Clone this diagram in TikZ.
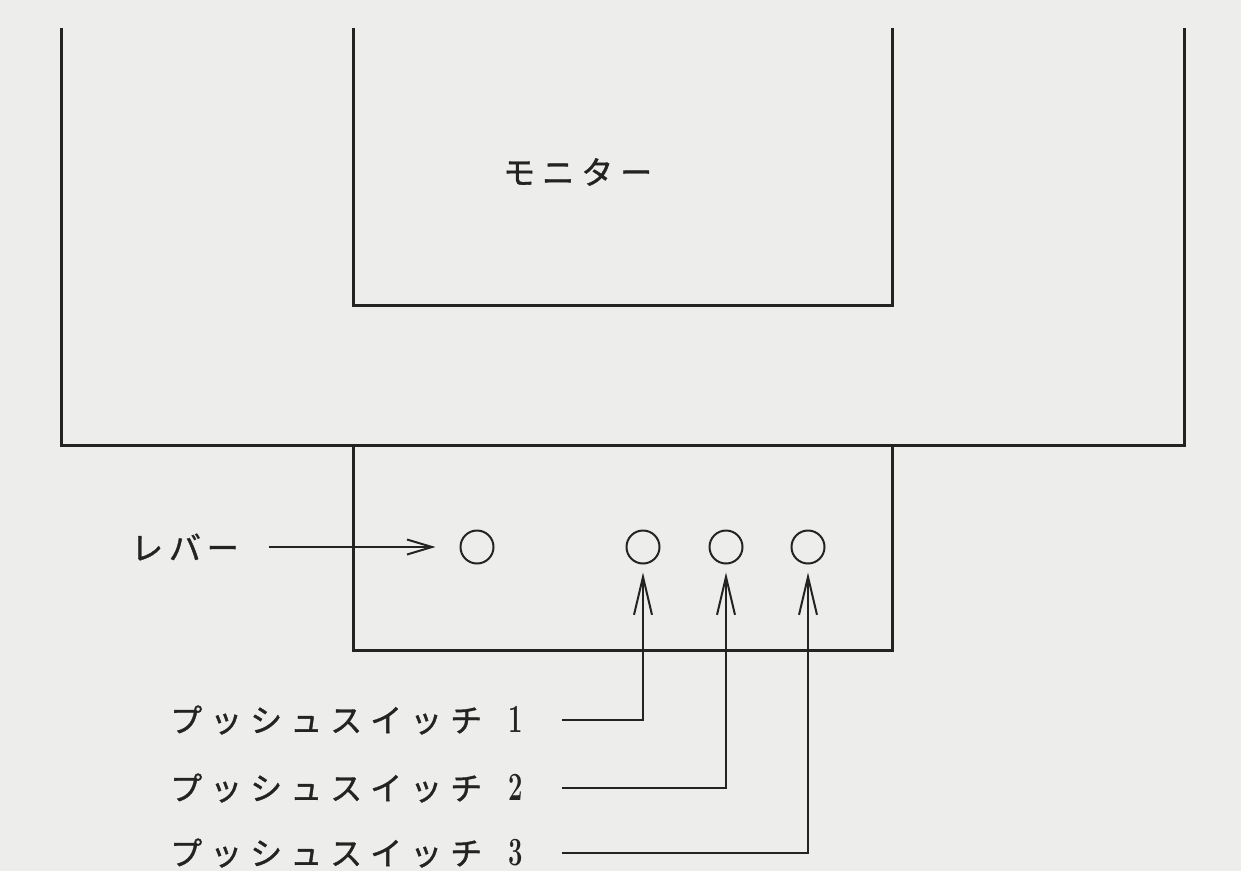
\documentclass[tikz,border=0pt]{standalone}
\usepackage{fontspec}
\usepackage{graphicx}
\newfontfamily\jp[FakeBold=1.2]{Noto Sans CJK JP}
\usetikzlibrary{arrows.meta}
\definecolor{bg}{RGB}{237,237,235}
\definecolor{ink}{RGB}{35,35,35}
\newcommand{\dgt}[1]{\scalebox{0.64}[1]{\rmfamily\bfseries\fontsize{40}{42}\selectfont #1}}
\begin{document}
\begin{tikzpicture}[x=1pt,y=-1pt,
  frame/.style={draw=ink,line width=3pt},
  knob/.style={circle,draw=ink,line width=2pt,minimum size=33pt,inner sep=0pt},
  lbl/.style={anchor=west,inner sep=0pt,text=ink,font=\jp\fontsize{32}{34}\selectfont},
  arr/.style={draw=ink,line width=2pt},
  uparr/.style={arr,-{Straight Barb[length=38pt,width=18pt,line width=2pt]}},
  levarr/.style={arr,-{Straight Barb[length=25pt,width=15pt,line width=2pt]}}]
\fill[bg] (0,0) rectangle (1241,871);
\useasboundingbox (0,0) rectangle (1241,871);
% outer frame
\draw[frame] (61,28) -- (61,445) -- (1184,445) -- (1184,28);
% monitor
\draw[frame] (353,28) -- (353,305) -- (892,305) -- (892,28);
\node[lbl] (mon) at (503,172) {\addfontfeature{LetterSpace=22}モニター};
% panel
\draw[frame] (353,445) rectangle (892,650);
% knobs
\node[knob] (lever) at (477,547) {};
\node[knob] (sw1) at (643,547) {};
\node[knob] (sw2) at (726,547) {};
\node[knob] (sw3) at (808,547) {};
% labels
\node[lbl] (lev) at (131,547) {\addfontfeature{LetterSpace=18}レバー};
\node[lbl] (ps1) at (170,720) {{\addfontfeature{LetterSpace=25}プッシュスイッチ}\hspace{26pt}\dgt{1}};
\node[lbl] (ps2) at (170,788) {{\addfontfeature{LetterSpace=25}プッシュスイッチ}\hspace{26pt}\dgt{2}};
\node[lbl] (ps3) at (170,853) {{\addfontfeature{LetterSpace=25}プッシュスイッチ}\hspace{26pt}\dgt{3}};
% connectors
\draw[levarr,shorten <=30pt,shorten >=24pt] (lev.east) -- (lever.west);
\draw[uparr,shorten <=39pt,shorten >=8pt] (ps1.east) -| (sw1.south);
\draw[uparr,shorten <=39pt,shorten >=8pt] (ps2.east) -| (sw2.south);
\draw[uparr,shorten <=39pt,shorten >=8pt] (ps3.east) -| (sw3.south);
\end{tikzpicture}
\end{document}
